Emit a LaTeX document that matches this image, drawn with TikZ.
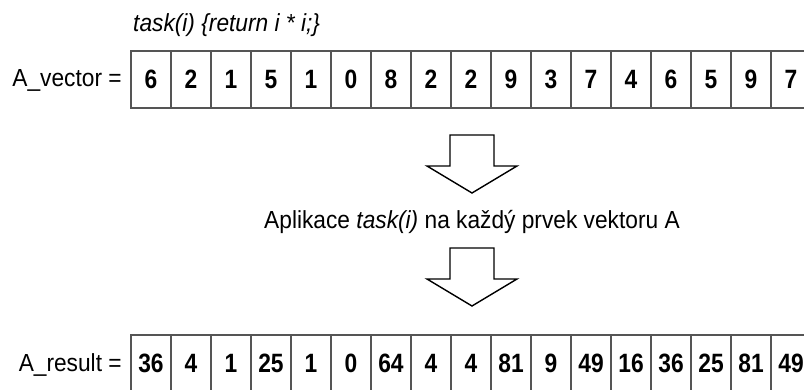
\documentclass[tikz,border=0pt]{standalone}
\usepackage{fontspec}
\setmainfont[FakeStretch=0.92]{Liberation Sans}
\newfontfamily\cellfont[FakeStretch=0.86]{Liberation Sans Bold}
\usepackage{tikz}
\usetikzlibrary{calc}
\definecolor{gridgray}{HTML}{555555}
\newcommand\bigtext{\fontsize{24.7}{29}\selectfont}
\newcommand\celltext{\fontsize{26.5}{30}\selectfont}
\tikzset{>=latex}

\begin{document}
\begin{tikzpicture}[x=1pt, y=-1pt,
    cell/.style={draw=gridgray, line width=2.2pt, minimum width=40pt,
      minimum height=57pt, inner sep=0pt, font=\cellfont\celltext},
    vecname/.style={inner sep=0pt, anchor=east, font=\bigtext},
    blockarrow/.style={draw=black, line width=1.4pt, fill=white, line join=miter}]
  \useasboundingbox (0,0) rectangle (804,389);
  \clip (0,0) rectangle (804,389);

  \node[anchor=base west, inner sep=0pt, font=\bigtext\itshape] (func) at (133,31.7)
    {task(i) \{return i * i;\}};

  % input vector and its squares
  \foreach \v [count=\i] in {6,2,1,5,1,0,8,2,2,9,3,7,4,6,5,9,7}
    \node[cell] (v\i) at (111+40*\i, 79.5) {\raisebox{-1pt}{\v}};
  \foreach \r [count=\i] in {36,4,1,25,1,0,64,4,4,81,9,49,16,36,25,81,49}
    \node[cell] (r\i) at (111+40*\i, 363.5) {\raisebox{-2pt}{\r}};
  \node[vecname] (vname) at ([xshift=-8pt, yshift=-1pt]v1.west) {A\_vector =};
  \node[vecname] (rname) at ([xshift=-8pt, yshift=-1pt]r1.west) {A\_result =};

  % the two down arrows with the step between them
  \foreach \t in {135,248}
    \draw[blockarrow] (450,\t) -- (494,\t) -- (494,\t+31) -- (517,\t+31)
      -- (472,\t+58) -- (427,\t+31) -- (450,\t+31) -- cycle;
  \node[anchor=base, inner sep=0pt, font=\bigtext] (apply) at (472,228)
    {Aplikace \textit{task(i)} na každý prvek vektoru A};
\end{tikzpicture}
\end{document}
